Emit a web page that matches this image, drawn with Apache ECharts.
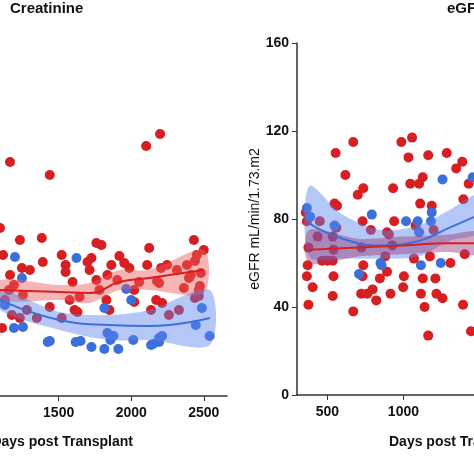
<!DOCTYPE html>
<html>
<head>
<meta charset="utf-8">
<script src="https://cdn.jsdelivr.net/npm/echarts@6/dist/echarts.min.js"></script>
<style>html,body{margin:0;padding:0;background:#fff}#chart{width:474px;height:474px}</style>
</head>
<body>
<div id="chart"></div>
<script>
// Creatinine panel (days, value)
var creatRed = [[1165,234],[1439,221],[1096,168],[2103,250],[2199,262],[1117,141],[1233,156],[1384,158],[1165,121],[1247,128],[1192,111],[1302,126],[1391,134],[1158,106],[1254,101],[1130,96],[1281,86],[1178,81],[1110,68],[1233,78],[1350,78],[1439,89],[1548,131],[1521,141],[1596,114],[1548,124],[1644,99],[1521,78],[1576,96],[1699,134],[1713,126],[1760,116],[1630,84],[1795,151],[1726,138],[1760,153],[1863,131],[1836,121],[1829,96],[1904,116],[1918,140],[1952,133],[1987,128],[2021,106],[2021,94],[2124,148],[2110,131],[2206,128],[2247,131],[2178,115],[2172,96],[2137,86],[2213,93],[2260,81],[2315,126],[2384,131],[2363,108],[2439,135],[2411,121],[2439,98],[2466,100],[2466,106],[2452,141],[2473,110],[2500,146],[2432,156],[2398,118],[2329,86],[2480,123],[1850,86],[1610,86],[1781,106],[2055,114],[2192,113]];
var creatBlue = [[1199,139],[1247,118],[1623,138],[1815,88],[1966,107],[2000,96],[1192,68],[1254,69],[1439,55],[1617,54],[1651,55],[1726,49],[1836,63],[1815,47],[1856,56],[1877,60],[1911,47],[2014,56],[2137,51],[2192,58],[2213,60],[1425,54],[2192,54],[2151,52],[2487,88],[2541,60],[2445,71],[1130,91]];
var creatRedFitX = [1096,1507,1713,1918,2124,2500];
var creatRedFit = [106,104,103,114,118,126];
var creatRedLo = [96,96,93,106,106,103];
var creatRedHi = [116,111,113,126,126,146];
var creatBlueFitX = [1096,1507,1850,2124,2541];
var creatBlueFit = [96,76,71,70,78];
var creatBlueLo = [86,66,56,56,51];
var creatBlueHi = [106,84,81,86,106];
var creatTicks = [1500, 2000, 2500];

// eGFR panel (days, mL/min/1.73m2)
var egfrRed = [[358,83],[365,79],[370,59],[365,54],[375,41],[403,49],[375,67],[450,79],[436,72],[465,61],[500,61],[535,61],[535,45],[540,54],[554,110],[547,87],[563,86],[559,76],[535,72],[540,66],[618,100],[670,115],[670,38],[700,91],[736,94],[731,79],[724,67],[736,59],[731,54],[722,46],[762,46],[797,48],[821,43],[786,75],[845,53],[880,63],[892,56],[915,46],[932,94],[939,79],[904,73],[927,68],[986,115],[1003,54],[998,49],[1033,108],[1045,96],[1057,117],[1080,77],[1069,62],[1103,96],[1110,87],[1127,53],[1115,46],[1139,40],[1163,109],[1163,27],[1198,75],[1210,53],[1217,46],[1257,44],[1285,110],[1309,60],[1347,103],[1387,106],[1429,96],[1392,41],[1444,29],[1394,89],[1403,64],[1127,99],[1186,86],[892,74],[1174,63],[1479,113],[1467,56]];
var egfrBlue = [[365,85],[387,81],[547,77],[792,82],[708,55],[849,60],[856,59],[1017,79],[1094,79],[1115,59],[1186,83],[1181,79],[1257,98],[1245,60],[1479,104],[1455,99],[1467,59],[1103,74]];
var egfrRedFitX = [380,700,1000,1300,1500];
var egfrRedFit = [66,67,68,69,69];
var egfrRedLo = [60,63,64,65,64];
var egfrRedHi = [75,71,72,73,74];
var egfrBlueFitX = [380,600,850,1100,1300,1500];
var egfrBlueFit = [78,71,68,70,76,82];
var egfrBlueLo = [63,62,62,63,70,74];
var egfrBlueHi = [95,82,75,77,84,91];
var egfrTicks = [500, 1000];

var RED = '#d71f22', BLUE = '#3b70dc';
var font = 'Liberation Sans, Arial, sans-serif';

function zip(xs, ys) { return xs.map(function (x, i) { return [x, ys[i]]; }); }

function band(xs, lo, hi, idx, color) {
  return {
    type: 'custom', xAxisIndex: idx, yAxisIndex: idx, z: 3,
    data: [[xs[0], lo[0]]],
    renderItem: function (params, api) {
      var pts = [];
      xs.forEach(function (x, i) { pts.push(api.coord([x, hi[i]])); });
      for (var i = xs.length - 1; i >= 0; i--) pts.push(api.coord([xs[i], lo[i]]));
      return { type: 'polygon', shape: { points: pts, smooth: 0.3 }, style: { fill: color } };
    }
  };
}
function dots(data, idx, color) {
  return { type: 'scatter', xAxisIndex: idx, yAxisIndex: idx, data: data, symbolSize: 10, z: 2,
    itemStyle: { color: color, opacity: 1 } };
}
function fit(xs, ys, idx, color) {
  return { type: 'line', xAxisIndex: idx, yAxisIndex: idx, data: zip(xs, ys), smooth: true,
    showSymbol: false, z: 4, lineStyle: { color: color, width: 2 } };
}

var labelStyle = { color: '#111', fontSize: 14, fontWeight: 'bold', fontFamily: font, formatter: function (v) { return String(v); } };
var axisLine = { show: true, lineStyle: { color: '#333', width: 1.5 } };
var tick = { show: true, length: 5, lineStyle: { color: '#333' } };

var myChart = echarts.init(document.getElementById('chart'));
myChart.setOption({
  backgroundColor: '#fff',
  animation: false,
  grid: [
    { left: 0, width: 227, top: 43, height: 353 },
    { left: 297, width: 177, top: 43, height: 352 }
  ],
  xAxis: [
    { gridIndex: 0, type: 'value', min: 1096, max: 2660, axisLine: axisLine, splitLine: { show: false },
      axisTick: Object.assign({ customValues: creatTicks }, tick),
      axisLabel: Object.assign({ margin: 10, customValues: creatTicks }, labelStyle) },
    { gridIndex: 1, type: 'value', min: 300, max: 1464, axisLine: axisLine, splitLine: { show: false },
      axisTick: Object.assign({ customValues: egfrTicks }, tick),
      axisLabel: Object.assign({ margin: 10, customValues: egfrTicks }, labelStyle) }
  ],
  yAxis: [
    { gridIndex: 0, type: 'value', min: 0, max: 353, show: false },
    { gridIndex: 1, type: 'value', min: 0, max: 160, interval: 40, axisLine: axisLine,
      axisTick: tick, splitLine: { show: false },
      axisLabel: Object.assign({ margin: 8 }, labelStyle),
      name: 'eGFR mL/min/1.73.m2', nameLocation: 'middle', nameGap: 34,
      nameTextStyle: { color: '#111', fontSize: 14, fontFamily: font } }
  ],
  graphic: [
    { type: 'text', left: 10, top: 1, style: { text: 'Creatinine', fontSize: 15, fontWeight: 'bold', fontFamily: font, fill: '#111' } },
    { type: 'text', left: 447, top: 1, style: { text: 'eGFR', fontSize: 15, fontWeight: 'bold', fontFamily: font, fill: '#111' } },
    { type: 'text', right: 341, top: 435, style: { text: 'Days post Transplant', fontSize: 14, fontWeight: 'bold', fontFamily: font, fill: '#111' } },
    { type: 'text', left: 389, top: 435, style: { text: 'Days post Transplant', fontSize: 14, fontWeight: 'bold', fontFamily: font, fill: '#111' } }
  ],
  series: [
    dots(creatRed, 0, RED), dots(creatBlue, 0, BLUE),
    band(creatRedFitX, creatRedLo, creatRedHi, 0, 'rgba(235,90,90,0.45)'),
    band(creatBlueFitX, creatBlueLo, creatBlueHi, 0, 'rgba(90,130,235,0.45)'),
    fit(creatRedFitX, creatRedFit, 0, RED), fit(creatBlueFitX, creatBlueFit, 0, BLUE),
    dots(egfrRed, 1, RED), dots(egfrBlue, 1, BLUE),
    band(egfrBlueFitX, egfrBlueLo, egfrBlueHi, 1, 'rgba(90,130,235,0.45)'),
    band(egfrRedFitX, egfrRedLo, egfrRedHi, 1, 'rgba(150,60,120,0.45)'),
    fit(egfrBlueFitX, egfrBlueFit, 1, BLUE), fit(egfrRedFitX, egfrRedFit, 1, RED)
  ]
});
</script>
</body>
</html>
